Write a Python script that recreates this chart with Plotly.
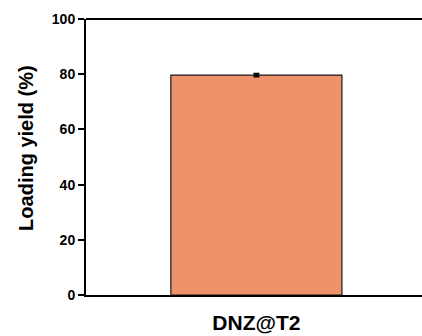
import plotly.graph_objects as go

categories = ["DNZ@T2"]
values = [79.7]
errors = [0.5]
y_ticks = [0, 20, 40, 60, 80, 100]
y_title = "Loading yield (%)"

FONT = "Liberation Sans, Arial"

fig = go.Figure()
fig.add_trace(go.Bar(
    x=[0], y=values, width=0.5,
    marker=dict(color="#EE926B", line=dict(color="#1a1a1a", width=1.2)),
    error_y=dict(type="data", array=errors, visible=True, color="black", thickness=2, width=3),
))
fig.add_shape(type="line", xref="paper", yref="paper", x0=0, x1=1.05, y0=1, y1=1,
              line=dict(color="black", width=2))
fig.add_shape(type="line", xref="paper", yref="paper", x0=1, x1=1.05, y0=0, y1=0,
              line=dict(color="black", width=2))
fig.add_annotation(
    text=y_title, textangle=-90, xref="paper", yref="paper",
    x=0, y=0.533, xanchor="center", yanchor="middle", xshift=-60,
    showarrow=False, font=dict(size=20, family=FONT, weight="bold", color="black"),
)
fig.update_layout(
    width=422, height=336,
    margin=dict(l=86, r=0, t=19, b=41),
    plot_bgcolor="white", paper_bgcolor="white",
    showlegend=False,
    font=dict(family=FONT, color="black"),
)
fig.update_xaxes(
    range=[-0.498, 0.484], tickvals=[0], ticktext=categories,
    showline=True, linecolor="black", linewidth=2, ticks="",
    tickfont=dict(size=21, family=FONT, weight="bold"),
    ticklabelstandoff=8,
    showgrid=False, zeroline=False,
)
fig.update_yaxes(
    range=[0, 100], tickvals=y_ticks,
    showline=True, linecolor="black", linewidth=2,
    ticks="outside", ticklen=6, tickwidth=2, tickcolor="black",
    tickfont=dict(size=14, family=FONT, weight="bold"),
    showgrid=False, zeroline=False,
)
fig.write_html("out.html", config={"displayModeBar": False},
               post_script="document.body.style.margin='0';document.body.style.overflow='hidden';")
